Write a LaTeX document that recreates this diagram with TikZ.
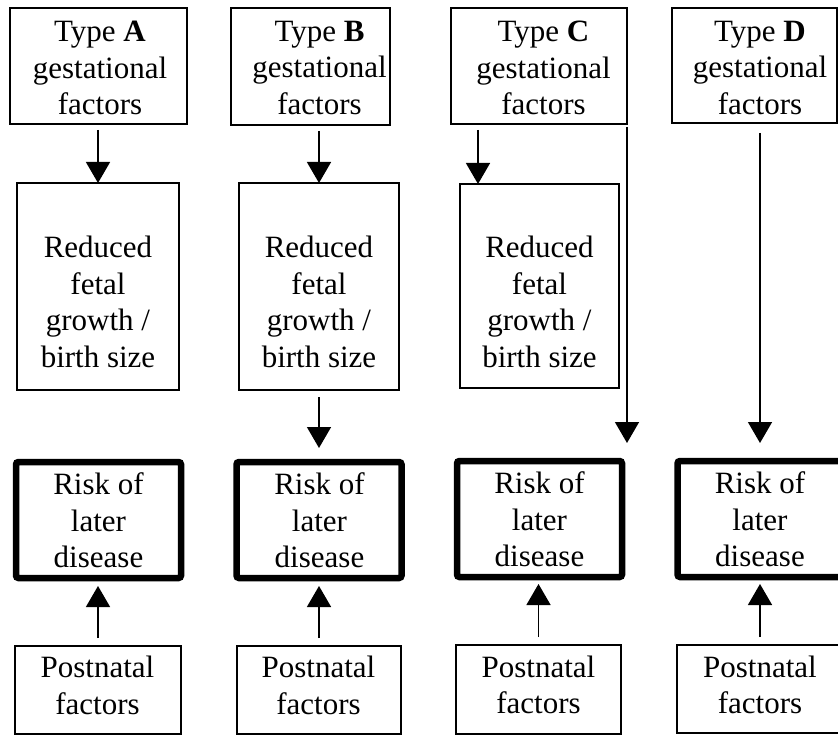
\documentclass[tikz,border=0pt]{standalone}
\usepackage{fontspec}
\setmainfont{Liberation Serif}
\usetikzlibrary{arrows.meta}
\begin{document}
\begin{tikzpicture}[x=1pt,y=-1pt,
  box/.style={draw,line width=1.3pt,inner sep=0pt,outer sep=0pt},
  riskbox/.style={draw,line width=6.5pt,rounded corners=2.5pt,inner sep=0pt,outer sep=0pt,minimum width=165pt,minimum height=116pt},
  txt/.style={align=center,inner sep=0pt,outer sep=0pt,font=\fontsize{31}{36.7}\selectfont},
  arr/.style={line width=1.5pt,-{Triangle[width=24pt,length=21pt]}}]
\useasboundingbox (0,0) rectangle (838,735);
\clip (0,0) rectangle (838,735);
% top boxes
\node[box,minimum width=177pt,minimum height=116pt] (tA) at (98.5,66) {};
\node[box,minimum width=159pt,minimum height=117pt] (tB) at (310.5,66.5) {};
\node[box,minimum width=176pt,minimum height=116pt] (tC) at (539,66) {};
\node[box,minimum width=165pt,minimum height=115pt] (tD) at (754.5,65.5) {};
\node[txt] (tAt) at (100,68) {Type \textbf{A}\\gestational\\factors};
\node[txt] (tBt) at (319.5,68) {Type \textbf{B}\\gestational\\factors};
\node[txt] (tCt) at (543.5,68) {Type \textbf{C}\\gestational\\factors};
\node[txt] (tDt) at (760,68) {Type \textbf{D}\\gestational\\factors};
% middle boxes
\node[box,minimum width=162pt,minimum height=207pt] (mA) at (98,286.5) {};
\node[box,minimum width=160pt,minimum height=207pt] (mB) at (319,286.5) {};
\node[box,minimum width=159pt,minimum height=204pt] (mC) at (539.5,286) {};
\node[txt] (mAt) at (98,302) {Reduced\\fetal\\growth /\\birth size};
\node[txt] (mBt) at (319,302) {Reduced\\fetal\\growth /\\birth size};
\node[txt] (mCt) at (539.5,302) {Reduced\\fetal\\growth /\\birth size};
% risk boxes
\node[riskbox] (rA) at (98.5,520) {};
\node[riskbox] (rB) at (319,520) {};
\node[riskbox] (rC) at (539.5,519) {};
\node[riskbox] (rD) at (760,519) {};
\node[txt] (rAt) at (98.5,520.5) {Risk of\\later\\disease};
\node[txt] (rBt) at (319.5,520.5) {Risk of\\later\\disease};
\node[txt] (rCt) at (539.5,519.5) {Risk of\\later\\disease};
\node[txt] (rDt) at (760,519.5) {Risk of\\later\\disease};
% postnatal boxes
\node[box,minimum width=166pt,minimum height=88pt] (pA) at (98,690) {};
\node[box,minimum width=164pt,minimum height=88pt] (pB) at (319,690) {};
\node[box,minimum width=165pt,minimum height=89pt] (pC) at (538.5,689.5) {};
\node[box,minimum width=166pt,minimum height=88pt] (pD) at (760,689) {};
\node[txt] (pAt) at (97.5,685.5) {Postnatal\\factors};
\node[txt] (pBt) at (318.5,685.5) {Postnatal\\factors};
\node[txt] (pCt) at (538.5,685) {Postnatal\\factors};
\node[txt] (pDt) at (760,685) {Postnatal\\factors};
% arrows top -> middle
\draw[arr,shorten <=6pt] (mA.north |- tA.south) -- (mA.north);
\draw[arr,shorten <=6pt] (mB.north |- tB.south) -- (mB.north);
\draw[arr,shorten <=6pt] ([xshift=18pt]mC.north west |- tC.south) -- ([xshift=18pt]mC.north west);
% middle B -> risk B
\draw[arr,shorten <=7pt,shorten >=14pt] (mB.south) -- (rB.north);
% long arrows
\draw[arr,shorten <=3pt,shorten >=18pt] (tC.south east) -- (tC.south east |- rC.north);
\draw[arr,shorten <=10pt,shorten >=18pt] (rD.north |- tD.south) -- (rD.north);
% postnatal -> risk
\draw[arr,shorten <=8pt,shorten >=8pt] (pA.north) -- (pA.north |- rA.south);
\draw[arr,shorten <=8pt,shorten >=8pt] (pB.north) -- (pB.north |- rB.south);
\draw[arr,shorten <=8pt,shorten >=7pt] (pC.north) -- (pC.north |- rC.south);
\draw[arr,shorten <=8pt,shorten >=7pt] (pD.north) -- (pD.north |- rD.south);
\end{tikzpicture}
\end{document}
